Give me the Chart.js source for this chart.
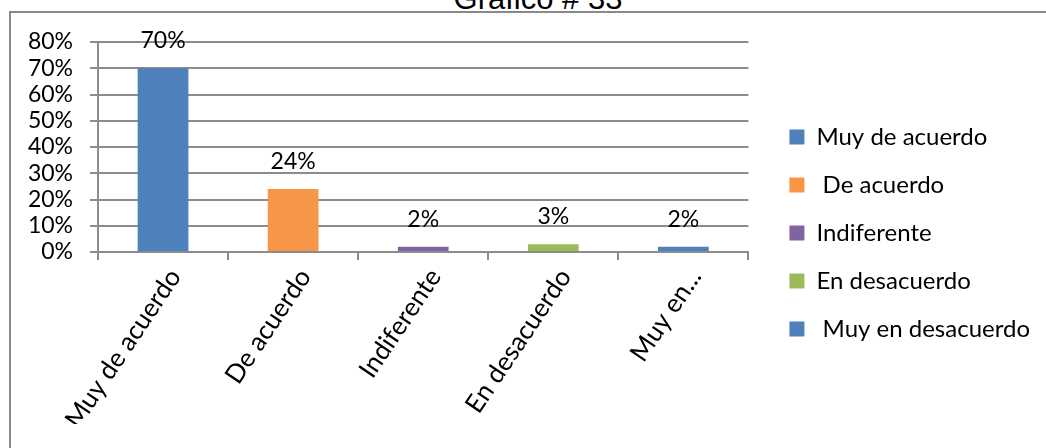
<!DOCTYPE html>
<html>
<head>
<meta charset="utf-8">
<script src="https://cdn.jsdelivr.net/npm/chart.js@4"></script>
<style>
  body { margin: 0; background: #fff; overflow: hidden; }
  #frame { position: absolute; left: 9px; top: 11px; width: 1100px; height: 500px; border: 2px solid #898989; }
  #title { position: absolute; left: 338px; top: -17px; width: 400px; text-align: center;
           font: 31px/31px 'Liberation Sans', Arial, sans-serif; color: #000; }
  #wrap { position: absolute; left: 0; top: 0; width: 1046px; height: 448px; }
</style>
</head>
<body>
<div id="frame"></div>
<div id="title">Gráfico # 33</div>
<div id="wrap"><canvas id="myChart"></canvas></div>
<script>
const categories = ['Muy de acuerdo', 'De acuerdo', 'Indiferente', 'En desacuerdo', 'Muy en...'];
const legendLabels = ['Muy de acuerdo', ' De acuerdo', 'Indiferente', 'En desacuerdo', ' Muy en desacuerdo'];
const values = [70, 24, 2, 3, 2];
const barColors = ['#4f81bd', '#f79646', '#8064a2', '#9bbb59', '#4f81bd'];
const yTicks = [0, 10, 20, 30, 40, 50, 60, 70, 80];

const font = 'Lato';
const gridColor = '#8c8c8c';
const legendGapPx = 17;

// values above the bars
const valueLabels = {
    id: 'valueLabels',
    afterDatasetsDraw(chart) {
        const ctx = chart.ctx;
        const meta = chart.getDatasetMeta(0);
        ctx.save();
        ctx.font = '23px ' + font;
        ctx.fillStyle = '#000';
        ctx.textAlign = 'center';
        ctx.textBaseline = 'alphabetic';
        meta.data.forEach((bar, i) => {
            ctx.fillText(values[i] + '%', bar.x, bar.y - 20);
        });
        ctx.restore();
    }
};

// leave some room between the plot and the legend
const legendGap = {
    id: 'legendGap',
    beforeLayout(chart) {
        const lg = chart.legend;
        if (lg && !lg._gapPatched) {
            const fit = lg.fit;
            lg.fit = function () {
                this.maxWidth = 400;
                fit.call(this);
                this.width += legendGapPx;
            };
            lg._gapPatched = true;
        }
    },
    afterLayout(chart) {
        chart.legend.left += legendGapPx;
    }
};

const ctx = document.getElementById('myChart');
new Chart(ctx, {
    type: 'bar',
    data: {
        labels: categories,
        datasets: [
            {
                label: 'Gráfico # 33',
                data: values,
                backgroundColor: barColors,
                barPercentage: 0.39,
                categoryPercentage: 1,
            },
        ],
    },
    options: {
        responsive: true,
        maintainAspectRatio: false,
        animation: false,
        layout: { padding: { left: 0, right: 6, top: 42, bottom: 24 } },
        plugins: {
            tooltip: { enabled: false },
            title: { display: false },
            legend: {
                position: 'right',
                labels: {
                    color: '#000',
                    font: { family: font, size: 24 },
                    boxWidth: 15,
                    boxHeight: 15,
                    padding: 24,
                    generateLabels: () => legendLabels.map((t, i) => ({
                        text: t,
                        fillStyle: barColors[i],
                        strokeStyle: barColors[i],
                        lineWidth: 0,
                        index: i,
                    })),
                },
            },
        },
        scales: {
            x: {
                afterFit: (s) => { s.height = 172; },
                grid: { display: true, drawOnChartArea: false, drawTicks: true, tickLength: 8, color: gridColor, lineWidth: 2 },
                border: { display: true, color: gridColor, width: 2 },
                ticks: {
                    color: '#000',
                    font: { family: font, size: 26 },
                    minRotation: 56,
                    maxRotation: 56,
                    autoSkip: false,
                    labelOffset: 12,
                    padding: 3,
                },
            },
            y: {
                min: 0,
                max: 80,
                afterBuildTicks: (s) => { s.ticks = yTicks.map(v => ({ value: v })); },
                afterFit: (s) => { s.width = 98; },
                grid: { color: gridColor, lineWidth: 2, tickLength: 8 },
                border: { display: true, color: gridColor, width: 2 },
                ticks: {
                    color: '#000',
                    font: { family: font, size: 23 },
                    padding: 17,
                    autoSkip: false,
                    callback: (v) => v + '%',
                },
            },
        },
    },
    plugins: [valueLabels, legendGap],
});
</script>
</body>
</html>
